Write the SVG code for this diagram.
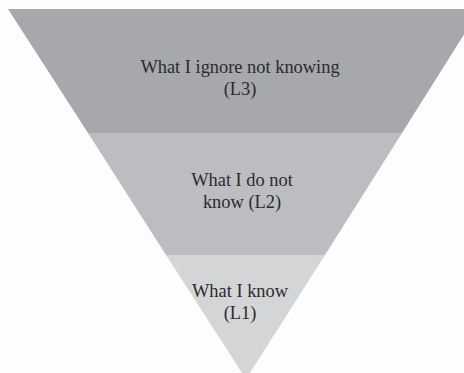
<svg xmlns="http://www.w3.org/2000/svg" width="464" height="373" viewBox="0 0 464 373">
<style>
.lbl{font-family:"Liberation Serif","Times New Roman",serif;font-size:18.4px;fill:#2b2b2b;text-anchor:middle}
</style>
<rect width="464" height="373" fill="#fdfdfd"/>
<g id="L3">
<polygon points="8,9 480,9 402,133 88,133" fill="#a7a8ab"/>
<text class="lbl" x="240" y="73">What I ignore not knowing</text>
<text class="lbl" x="240" y="95">(L3)</text>
</g>
<g id="L2">
<polygon points="88,133 402,133 325,255 166,255" fill="#bcbdc0"/>
<text class="lbl" x="242" y="186">What I do not</text>
<text class="lbl" x="242" y="208">know (L2)</text>
</g>
<g id="L1">
<polygon points="166,255 325,255 246,379" fill="#d4d5d7"/>
<text class="lbl" x="240" y="297">What I know</text>
<text class="lbl" x="240" y="319">(L1)</text>
</g>
<g id="connectors"/>
</svg>
